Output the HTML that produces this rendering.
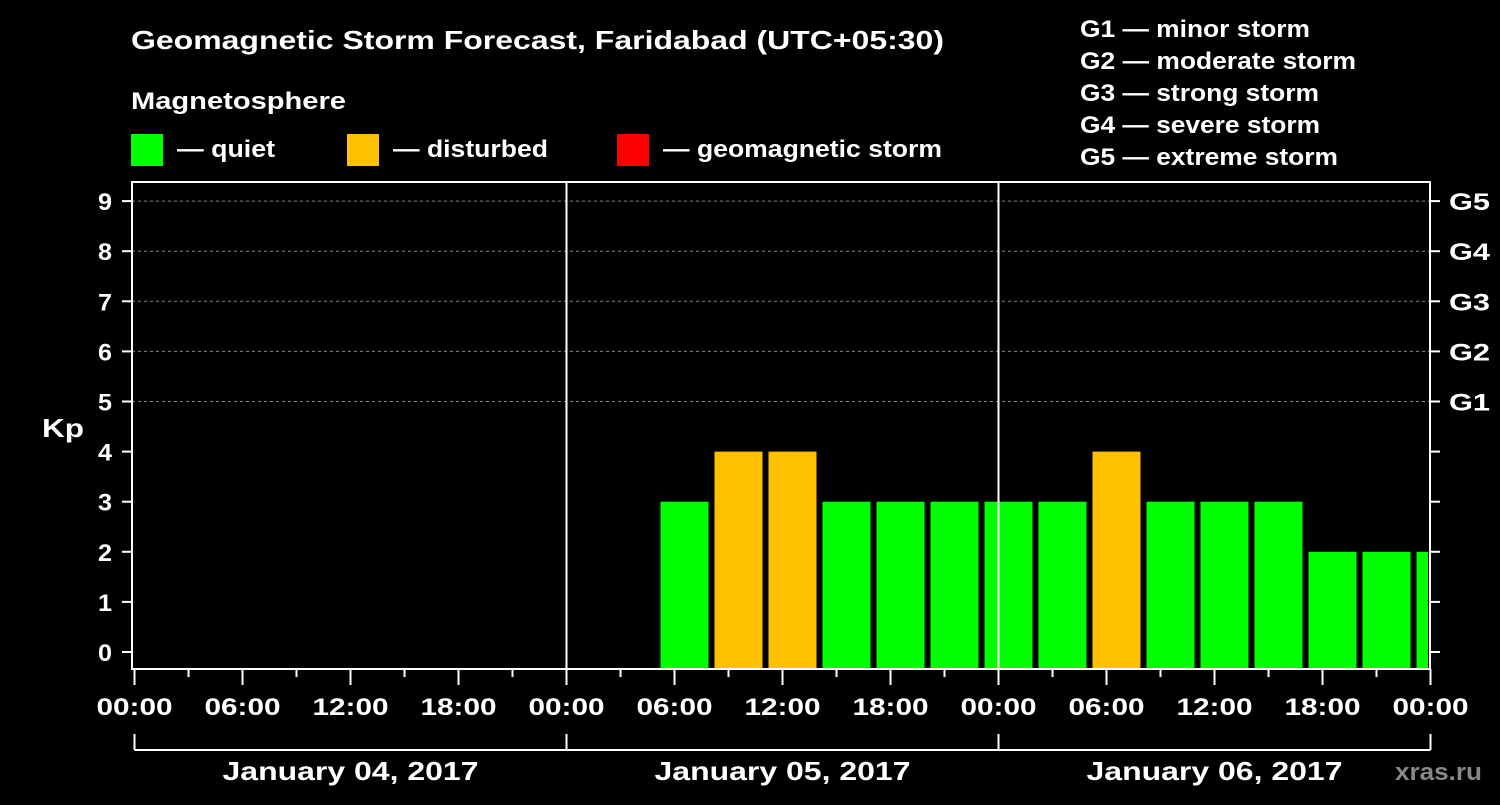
<!DOCTYPE html>
<html><head><meta charset="utf-8"><style>
body{margin:0;background:#000;}
svg text{font-family:"Liberation Sans",Arial,sans-serif;font-weight:bold;fill:#fff;}
</style></head><body>
<svg id="c" width="1500" height="800" xmlns="http://www.w3.org/2000/svg">
<rect width="1500" height="800" fill="#000"/>
<text x="131" y="49" font-size="26" textLength="813" lengthAdjust="spacingAndGlyphs">Geomagnetic Storm Forecast, Faridabad (UTC+05:30)</text>
<text x="131" y="109" font-size="24" textLength="215" lengthAdjust="spacingAndGlyphs">Magnetosphere</text>
<rect x="131" y="134" width="32" height="32" fill="#00ff00"/>
<text x="177" y="157" font-size="24" textLength="98" lengthAdjust="spacingAndGlyphs">— quiet</text>
<rect x="347" y="134" width="32" height="32" fill="#ffc000"/>
<text x="393" y="157" font-size="24" textLength="155" lengthAdjust="spacingAndGlyphs">— disturbed</text>
<rect x="617" y="134" width="32" height="32" fill="#ff0000"/>
<text x="663" y="157" font-size="24" textLength="279" lengthAdjust="spacingAndGlyphs">— geomagnetic storm</text>
<g font-size="24">
<text x="1080" y="37" textLength="230" lengthAdjust="spacingAndGlyphs">G1 — minor storm</text>
<text x="1080" y="69" textLength="276" lengthAdjust="spacingAndGlyphs">G2 — moderate storm</text>
<text x="1080" y="101" textLength="239" lengthAdjust="spacingAndGlyphs">G3 — strong storm</text>
<text x="1080" y="133" textLength="240" lengthAdjust="spacingAndGlyphs">G4 — severe storm</text>
<text x="1080" y="165" textLength="258" lengthAdjust="spacingAndGlyphs">G5 — extreme storm</text>
</g>
<text x="42" y="437" font-size="26" textLength="42" lengthAdjust="spacingAndGlyphs">Kp</text>
<text x="1395" y="780" font-size="24" textLength="87" lengthAdjust="spacingAndGlyphs" style="fill:#888">xras.ru</text>
<g id="grid"></g><g id="bars"></g><g id="axes"></g>
</svg>
<script>
const kpValues=[3,4,4,3,3,3,3,3,4,3,3,3,2,2,2];
const firstBarHour=29.5;
const yTicks=[0,1,2,3,4,5,6,7,8,9];
const gLabels=["G1","G2","G3","G4","G5"];
const hourLabels=["00:00","06:00","12:00","18:00"];
const dateLabels=["January 04, 2017","January 05, 2017","January 06, 2017"];
const NS="http://www.w3.org/2000/svg";
const X0=134.5,PXH=18,Y0=652,PXU=50.1,L=132,R=1430,T=182,B=669;
const xs=h=>X0+h*PXH, ys=v=>Y0-v*PXU;
function mk(t,a,p){const e=document.createElementNS(NS,t);for(const k in a)e.setAttribute(k,a[k]);p.appendChild(e);return e;}
const grid=document.getElementById('grid'),bars=document.getElementById('bars'),ax=document.getElementById('axes');
for(let v=5;v<=9;v++){const l=mk('line',{x1:L,x2:R,y1:ys(v),y2:ys(v),stroke:'#888','stroke-dasharray':'3,3'},grid);

}
kpValues.forEach((v,i)=>{const x=xs(firstBarHour+3*i)-5;const w=Math.min(48,R-2-x);
const c=v>=5?'#ff0000':v>=4?'#ffc000':'#00ff00';
const r=mk('rect',{x:x,y:ys(v),width:w,height:ys(0)-ys(v)+16,fill:c},bars);

});
mk('rect',{x:L,y:T,width:R-L,height:B-T,fill:'none',stroke:'#fff','stroke-width':2},ax);
[1,2].forEach(d=>{mk('line',{x1:xs(24*d),x2:xs(24*d),y1:T,y2:B,stroke:'#fff','stroke-width':2},ax);});
yTicks.forEach(v=>{mk('line',{x1:L-10,x2:L,y1:ys(v),y2:ys(v),stroke:'#fff','stroke-width':2},ax);
mk('line',{x1:R,x2:R+10,y1:ys(v),y2:ys(v),stroke:'#fff','stroke-width':2},ax);
const t=mk('text',{x:98,y:ys(v)+9,'font-size':24,textLength:14,lengthAdjust:'spacingAndGlyphs'},ax);t.textContent=v;


if(v>=5){const g=mk('text',{x:1449,y:ys(v)+9,'font-size':24,textLength:41,lengthAdjust:'spacingAndGlyphs'},ax);g.textContent=gLabels[v-5];

}});
for(let h=0;h<=72;h+=3){const maj=h%6==0;mk('line',{x1:xs(h),x2:xs(h),y1:B,y2:B+(maj?16:8),stroke:'#fff','stroke-width':2},ax);
if(maj){const t=mk('text',{x:xs(h)-38,y:715,'font-size':24,textLength:76,lengthAdjust:'spacingAndGlyphs'},ax);t.textContent=hourLabels[(h/6)%4];

}}
mk('line',{x1:xs(0),x2:xs(72),y1:750,y2:750,stroke:'#fff','stroke-width':2},ax);
for(let d=0;d<=3;d++)mk('line',{x1:xs(24*d),x2:xs(24*d),y1:734,y2:750,stroke:'#fff','stroke-width':2},ax);
dateLabels.forEach((s,d)=>{const t=mk('text',{x:xs(24*d+12)-128,y:780,'font-size':26,textLength:256,lengthAdjust:'spacingAndGlyphs'},ax);t.textContent=s;

});
</script>
</body></html>
